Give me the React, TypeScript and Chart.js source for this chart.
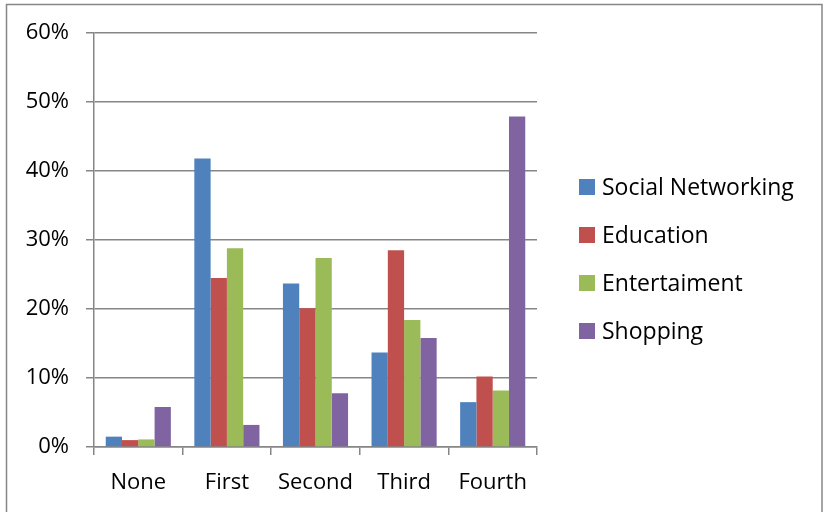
import React, { useEffect, useRef } from "react";
import { Chart, registerables } from "chart.js";

Chart.register(...registerables);

const categories = ["None", "First", "Second", "Third", "Fourth"];
const seriesNames = ["Social Networking", "Education", "Entertaiment", "Shopping"];
const socialNetworking = [1.5, 41.8, 23.7, 13.7, 6.5];
const education = [1.0, 24.5, 20.1, 28.5, 10.2];
const entertaiment = [1.1, 28.8, 27.4, 18.4, 8.2];
const shopping = [5.8, 3.2, 7.8, 15.8, 47.9];
const seriesColors = ["#4F81BD", "#C0504D", "#9BBB59", "#8064A2"];
const yTicks = [0, 10, 20, 30, 40, 50, 60];

const FONT = "'Open Sans', 'DejaVu Sans', sans-serif";
const GRAY = "#868686";

const frameAndLegend = {
  id: "frameAndLegend",
  afterDraw(chart: any) {
    const ctx = chart.ctx;
    ctx.save();
    // outer frame
    ctx.strokeStyle = GRAY;
    ctx.lineWidth = 1.5;
    ctx.strokeRect(6.5, 4.5, 815.5, 520);
    // legend
    ctx.font = `23px ${FONT}`;
    ctx.textBaseline = "middle";
    ctx.textAlign = "left";
    chart.data.datasets.forEach((ds: any, i: number) => {
      const cy = 187 + i * 48;
      ctx.fillStyle = ds.backgroundColor;
      ctx.fillRect(579, cy - 8, 16, 16);
      ctx.fillStyle = "#000";
      ctx.fillText(ds.label, 602, cy + 1);
    });
    ctx.restore();
  },
};

export default function App() {
  const ref = useRef<HTMLCanvasElement | null>(null);
  useEffect(() => {
    if (!ref.current) return;
    const values = [socialNetworking, education, entertaiment, shopping];
    const chart = new Chart(ref.current, {
      type: "bar",
      data: {
        labels: categories,
        datasets: seriesNames.map((name, i) => ({
          label: name,
          data: values[i],
          backgroundColor: seriesColors[i],
          borderWidth: 0,
          categoryPercentage: 0.735,
          barPercentage: 1.0,
        })),
      },
      options: {
        responsive: false,
        animation: false,
        layout: { padding: { left: 0, top: 33, right: 287, bottom: 0 } },
        plugins: {
          legend: { display: false },
          tooltip: { enabled: false },
        },
        scales: {
          x: {
            offset: true,
            grid: {
              offset: true,
              drawOnChartArea: false,
              drawTicks: true,
              tickLength: 8,
              color: GRAY,
              lineWidth: 1.5,
            },
            border: { display: true, color: GRAY, width: 1.5 },
            ticks: {
              color: "#000",
              font: { family: FONT, size: 22 },
              padding: 15,
              maxRotation: 0,
            },
            afterFit: (s: any) => {
              s.height = 65;
            },
          },
          y: {
            min: 0,
            max: 60,
            afterBuildTicks: (s: any) => {
              s.ticks = yTicks.map((v) => ({ value: v }));
            },
            grid: {
              color: GRAY,
              lineWidth: 1.5,
              drawTicks: true,
              tickLength: 8,
            },
            border: { display: true, color: GRAY, width: 1.5 },
            ticks: {
              color: "#000",
              font: { family: FONT, size: 22 },
              padding: 17,
              callback: (v: any) => `${v}%`,
            },
            afterFit: (s: any) => {
              s.width = 94;
            },
          },
        },
      },
      plugins: [frameAndLegend],
    });
    return () => chart.destroy();
  }, []);
  return (
    <div style={{ position: "fixed", left: 0, top: 0, width: 824, height: 512, background: "#fff" }}>
      <canvas ref={ref} width={824} height={512} style={{ display: "block" }} />
    </div>
  );
}
